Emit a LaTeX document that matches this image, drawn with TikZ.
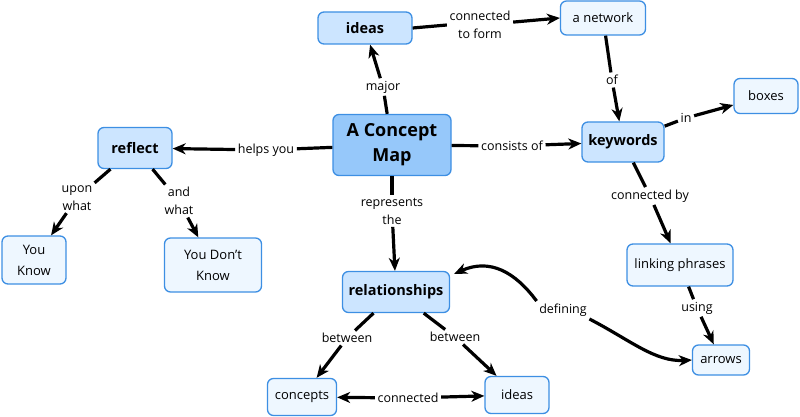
\documentclass[tikz,border=0pt]{standalone}
\usepackage{fontspec}
\setmainfont{Open Sans}
\usetikzlibrary{arrows.meta}
\definecolor{mapblue}{HTML}{3D8FE3}
\definecolor{mainfill}{HTML}{96C8FA}
\definecolor{keyfill}{HTML}{CCE5FF}
\definecolor{leaffill}{HTML}{EEF7FF}
\tikzset{
	concept/.style={draw=mapblue, line width=1.3pt, rounded corners=6pt, inner sep=2pt, align=center},
	mainc/.style={concept, fill=mainfill, font=\fontsize{18}{25}\selectfont\bfseries},
	keyc/.style={concept, fill=keyfill, font=\fontsize{14.5}{17}\selectfont\bfseries},
	leafc/.style={concept, fill=leaffill, font=\fontsize{13}{21}\selectfont},
	lbl/.style={fill=white, inner sep=2.5pt, align=center, font=\fontsize{12.5}{18}\selectfont},
	link/.style={line width=3.2pt},
	arr/.style={link, -{Stealth[length=13pt, width=11pt, inset=4pt]}},
}

\begin{document}
\begin{tikzpicture}[x=1pt, y=-1pt]
	\useasboundingbox (0,0) rectangle (800,417);
	
	% concepts
	\node[mainc, minimum width=118pt, minimum height=61pt] (map) at (392,145) {A Concept\\Map};
	\node[keyc, minimum width=94pt, minimum height=32pt] (ideasT) at (365,28) {ideas};
	\node[leafc, minimum width=85pt, minimum height=34pt] (network) at (603,18) {a network};
	\node[keyc, minimum width=82pt, minimum height=40pt] (keywords) at (623,142) {keywords};
	\node[leafc, minimum width=64pt, minimum height=35pt] (boxes) at (766,96) {boxes};
	\node[keyc, minimum width=74pt, minimum height=41pt] (reflect) at (135,148) {reflect};
	\node[leafc, minimum width=64pt, minimum height=48pt] (know) at (34,260) {You\\Know};
	\node[leafc, minimum width=97pt, minimum height=54pt] (dontknow) at (213,265) {You Don't\\Know};
	\node[keyc, minimum width=107pt, minimum height=41pt] (relations) at (396,292) {relationships};
	\node[leafc, minimum width=106pt, minimum height=42pt] (phrases) at (680,265) {linking phrases};
	\node[leafc, minimum width=57pt, minimum height=30pt] (arrows) at (721,360) {arrows};
	\node[leafc, minimum width=69pt, minimum height=37pt] (concepts) at (302,397) {concepts};
	\node[leafc, minimum width=64pt, minimum height=37pt] (ideasB) at (517,395) {ideas};
	
	% linking phrases
	\node[lbl] (lmajor) at (383,87) {major};
	\node[lbl] (lform) at (480,25) {connected\\to form};
	\node[lbl] (lof) at (612,80) {of};
	\node[lbl] (lconsists) at (512,146) {consists of};
	\node[lbl] (lin) at (686,118) {in};
	\node[lbl] (lconnby) at (650,196) {connected by};
	\node[lbl] (lusing) at (697,308) {using};
	\node[lbl] (lhelps) at (266,150) {helps you};
	\node[lbl] (lupon) at (77,198) {upon\\what};
	\node[lbl] (landwhat) at (179,201) {and\\what};
	\node[lbl] (lrepr) at (392,211) {represents\\the};
	\node[lbl] (lbetL) at (347,338) {between};
	\node[lbl] (lbetR) at (455,337) {between};
	\node[lbl] (lconn) at (408,398) {connected};
	\node[lbl] (ldef) at (563,310) {defining};
	
	% connectors
	\draw[link] (map) -- (lmajor);
	\draw[arr] (lmajor) -- (ideasT);
	\draw[link] (ideasT.east) -- (lform.west);
	\draw[arr] (lform) -- (network.west);
	\draw[link] (network) -- (lof);
	\draw[arr] (lof) -- (keywords);
	\draw[link] (map) -- (lconsists);
	\draw[arr] (lconsists) -- (keywords);
	\draw[link] (keywords) -- (lin);
	\draw[arr] (lin) -- (boxes);
	\draw[link] (keywords) -- (lconnby);
	\draw[arr] (lconnby) -- (phrases);
	\draw[link] (phrases) -- (lusing);
	\draw[arr] (lusing) -- (arrows);
	\draw[link] (map) -- (lhelps);
	\draw[arr] (lhelps) -- (reflect);
	\draw[link] (reflect) -- (lupon);
	\draw[arr] (lupon) -- (know);
	\draw[link] (reflect) -- (landwhat);
	\draw[arr] (landwhat) -- (dontknow);
	\draw[link] (map) -- (lrepr);
	\draw[arr] (lrepr) -- (relations);
	\draw[link] (relations) -- (lbetL);
	\draw[arr] (lbetL) -- (concepts);
	\draw[link] (relations) -- (lbetR);
	\draw[arr] (lbetR) -- (ideasB);
	\draw[arr] (lconn) -- (concepts);
	\draw[arr] (lconn) -- (ideasB);
	\draw[arr] (ldef.north west) .. controls (515,272) and (490,258) .. ([xshift=4pt, yshift=-3pt]relations.north east);
	\draw[arr] (ldef.south east) .. controls (630,340) and (655,362) .. (arrows.west);
\end{tikzpicture}
\end{document}
